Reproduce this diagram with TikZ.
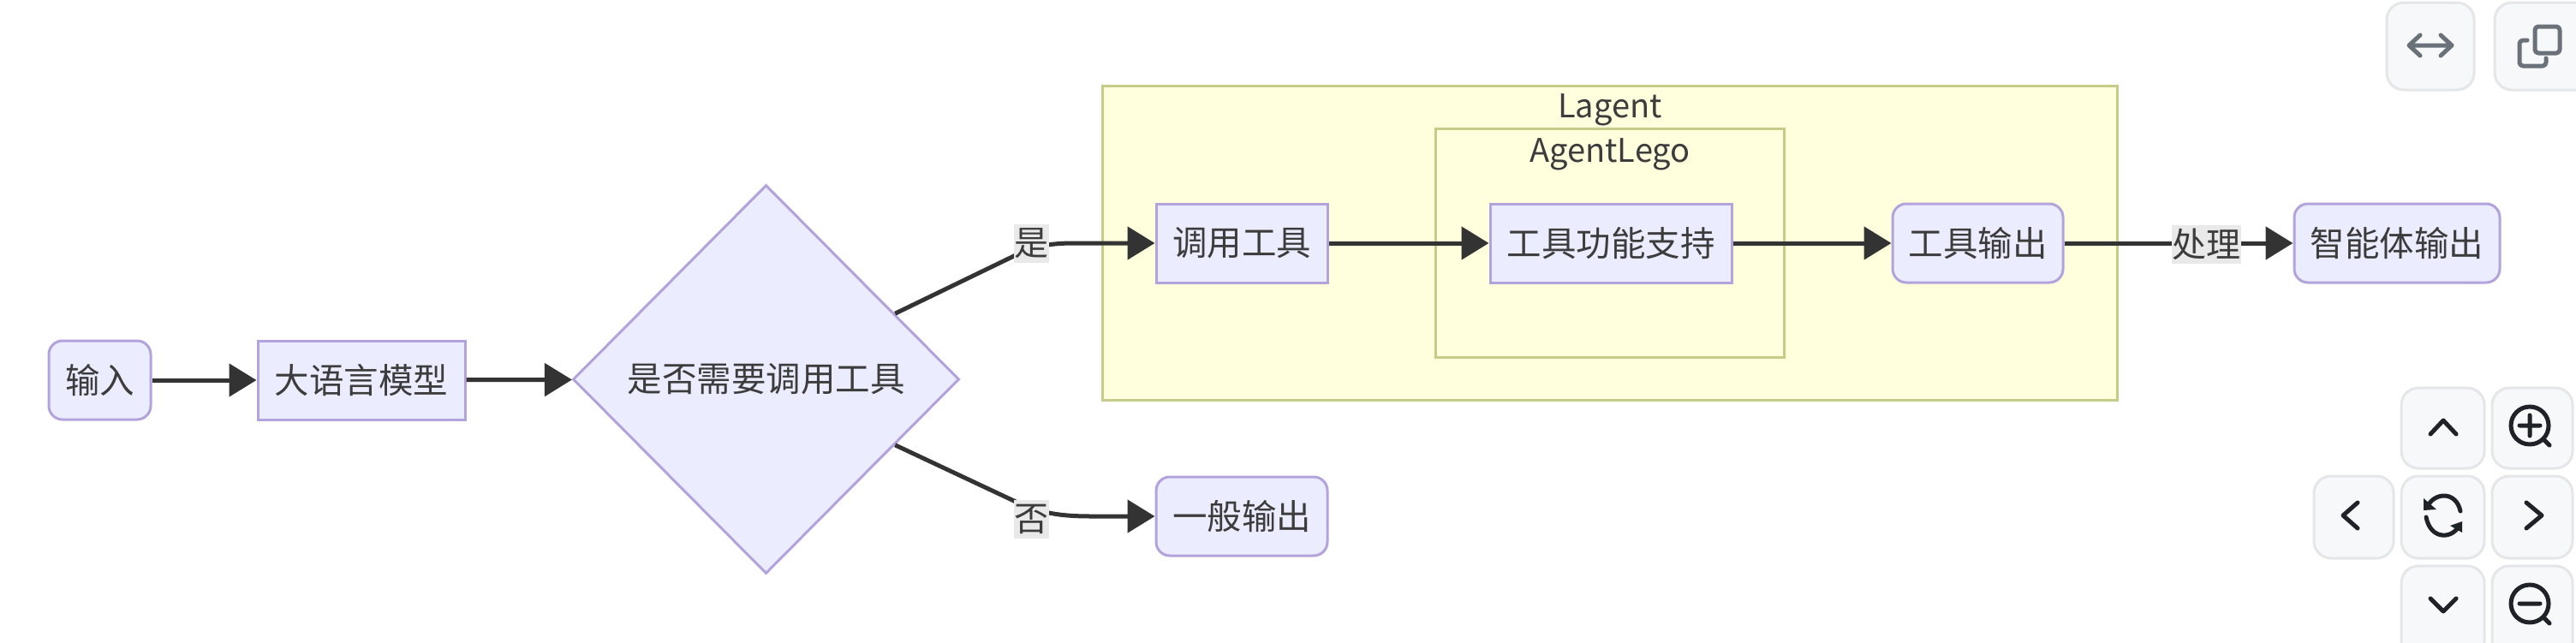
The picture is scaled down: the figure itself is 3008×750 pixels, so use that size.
\documentclass[tikz,border=0pt]{standalone}
\usepackage{fontspec}
\setmainfont{Noto Sans CJK SC}
\usetikzlibrary{arrows.meta,shapes.geometric}
\definecolor{nodefill}{HTML}{ECECFF}
\definecolor{nodeline}{HTML}{B3A3DC}
\definecolor{txt}{HTML}{3C3C3C}
\definecolor{subfill}{HTML}{FFFFDE}
\definecolor{subline}{HTML}{C6CB88}
\definecolor{labelbg}{HTML}{E9E9E9}
\definecolor{edgecol}{HTML}{333333}
\definecolor{btnfill}{HTML}{F6F8FA}
\definecolor{btnline}{HTML}{E4E6E8}
\definecolor{icongrey}{HTML}{6B7178}
\definecolor{iconblack}{HTML}{1F2328}
\newcommand{\lowtext}[1]{\raisebox{-3pt}{#1}}
\tikzset{
  x=1pt,y=-1pt,
  base/.style={font=\fontsize{40.5}{44}\selectfont,text=txt,inner sep=0pt,draw=nodeline,fill=nodefill,line width=3pt,minimum height=92pt},
  sqbox/.style={base},
  rdbox/.style={base,rounded corners=16pt},
  decision/.style={base,diamond,aspect=1,minimum width=451pt,minimum height=454pt},
  subgraphbox/.style={draw=subline,fill=subfill,line width=3pt},
  subtitle/.style={font=\fontsize{38}{40}\selectfont,text=txt,inner sep=0pt},
  edge/.style={draw=edgecol,line width=5pt,-{Triangle[length=32pt,width=38pt]}},
  edgelabel/.style={font=\fontsize{40}{42}\selectfont,text=txt,fill=labelbg,inner sep=0pt,minimum height=45pt},
  btn/.style={draw=btnline,fill=btnfill,line width=3pt,rounded corners=20pt},
  icong/.style={draw=icongrey,line width=5pt,line cap=round,line join=round},
  iconk/.style={draw=iconblack,line width=5pt,line cap=round,line join=round},
}
\begin{document}
\begin{tikzpicture}
\clip (0,0) rectangle (3008,750);
\fill[white] (0,0) rectangle (3008,750);
% subgraphs
\draw[subgraphbox] (1287,100) rectangle (2472,467);
\draw[subgraphbox] (1676,150) rectangle (2083,417);
\node[subtitle] (tlagent) at (1880,128) {Lagent};
\node[subtitle] (tlego) at (1880,180) {AgentLego};
% nodes
\node[rdbox,minimum width=119pt] (in) at (116.5,444) {\lowtext{输入}};
\node[sqbox,minimum width=242pt] (llm) at (422,444) {\lowtext{大语言模型}};
\node[decision] (dec) at (894.5,443) {\lowtext{是否需要调用工具}};
\node[sqbox,minimum width=200pt] (call) at (1450,284) {\lowtext{调用工具}};
\node[sqbox,minimum width=282pt] (func) at (1881,284) {\lowtext{工具功能支持}};
\node[rdbox,minimum width=199pt] (tout) at (2309.5,284) {\lowtext{工具输出}};
\node[rdbox,minimum width=240pt] (aout) at (2799,284) {\lowtext{智能体输出}};
\node[rdbox,minimum width=200pt] (gout) at (1450,603) {\lowtext{一般输出}};
% connectors
\draw[edge] (in) -- (llm);
\draw[edge] (llm) -- (dec);
\coordinate (ya) at (1184,299);
\coordinate (yb) at (1262,284);
\draw[edge] (dec.27) -- (ya) .. controls (1215,284) and (1235,284) .. (yb) -- (call);
\coordinate (na) at (1184,585);
\coordinate (nb) at (1275,603);
\draw[edge] (dec.-27) -- (na) .. controls (1215,600) and (1240,603) .. (nb) -- (gout);
\draw[edge] (call) -- (func);
\draw[edge] (func) -- (tout);
\draw[edge] (tout) -- (aout);
\node[edgelabel,minimum width=41pt] (lyes) at (1204,284) {是};
\node[edgelabel,minimum width=41pt] (lno) at (1204,606) {否};
\node[edgelabel,minimum width=81pt] (lproc) at (2576,285) {处理};
% viewer buttons
\draw[btn] (2787,3) rectangle (2889,105);
\draw[btn] (2913,3) rectangle (3030,105);
\draw[btn] (2804,453) rectangle (2901,547);
\draw[btn] (2910,453) rectangle (3004,547);
\draw[btn] (2702,556) rectangle (2795,652);
\draw[btn] (2804,556) rectangle (2901,652);
\draw[btn] (2910,556) rectangle (3004,652);
\draw[btn] (2804,661) rectangle (2901,770);
\draw[btn] (2910,661) rectangle (3004,770);
% icons
\draw[icong] (2813,53) -- (2863,53) (2826,41) -- (2813,53) -- (2826,65) (2850,41) -- (2863,53) -- (2850,65);
\draw[icong,rounded corners=4pt] (2960,31) rectangle (2989,62);
\draw[icong,rounded corners=4pt] (2951,47) -- (2942,47) -- (2942,77) -- (2973,77) -- (2973,68);
\draw[iconk] (2838,507) -- (2853,491) -- (2868,507);
\draw[iconk] (2838,699) -- (2853,714) -- (2868,699);
\draw[iconk] (2753,587) -- (2736,602) -- (2753,617);
\draw[iconk] (2950,587) -- (2968,602) -- (2950,617);
\draw[iconk] (2954,497) circle[radius=22pt];
\draw[iconk] (2954,485) -- (2954,509) (2942,497) -- (2966,497) (2970,513) -- (2977,520);
\draw[iconk] (2954,705) circle[radius=22pt];
\draw[iconk] (2942,705) -- (2966,705) (2970,721) -- (2977,728);
\draw[iconk] (2873,597) .. controls (2868,574) and (2845,575) .. (2836,589);
\draw[iconk] (2833,604) .. controls (2838,630) and (2862,630) .. (2871,615);
\fill[iconblack] (2830,582) -- (2830,596) -- (2845,595) -- cycle;
\fill[iconblack] (2875,609) -- (2875,622) -- (2861,614) -- cycle;
\end{tikzpicture}
\end{document}
